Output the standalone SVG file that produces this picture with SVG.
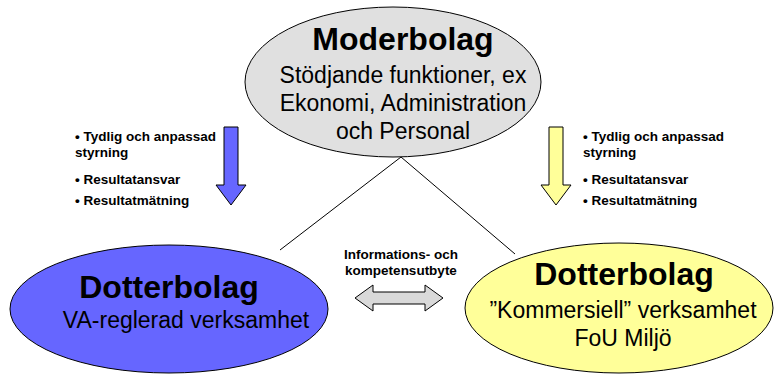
<svg xmlns="http://www.w3.org/2000/svg" width="776" height="378" viewBox="0 0 776 378">
<style>
.ell{stroke:#000;stroke-width:1}
.t{font-family:"Liberation Sans",Arial,sans-serif;fill:#000;text-anchor:middle}
.big{font-size:32px;font-weight:bold}
.sub{font-size:23px}
.bul{font-family:"Liberation Sans",Arial,sans-serif;font-size:13.5px;font-weight:bold;fill:#000}
.sm{font-size:13.5px;font-weight:bold}
.arr{stroke:#000;stroke-width:1;stroke-linejoin:miter}
.conn{stroke:#000;stroke-width:1;fill:none}
</style>
<rect width="776" height="378" fill="#fff"/>
<g id="connectors">
<line class="conn" x1="401" y1="157" x2="280" y2="250"/>
<line class="conn" x1="401" y1="157" x2="515" y2="254"/>
</g>
<g id="moderbolag">
<ellipse class="ell" cx="393" cy="82" rx="148" ry="75" fill="#e0e0e0"/>
<text class="t big" x="403" y="50">Moderbolag</text>
<text class="t sub" x="403" y="83">Stödjande funktioner, ex</text>
<text class="t sub" x="403" y="111">Ekonomi, Administration</text>
<text class="t sub" x="403" y="139">och Personal</text>
</g>
<g id="dotterbolag-va">
<ellipse class="ell" cx="169" cy="309" rx="159" ry="64" fill="#6666ff"/>
<text class="t big" x="169" y="298">Dotterbolag</text>
<text class="t sub" x="186" y="328">VA-reglerad verksamhet</text>
</g>
<g id="dotterbolag-kommersiell">
<ellipse class="ell" cx="619" cy="308" rx="154" ry="65" fill="#ffff99"/>
<text class="t big" x="624" y="285">Dotterbolag</text>
<text class="t sub" x="623" y="318">”Kommersiell” verksamhet</text>
<text class="t sub" x="623" y="346">FoU Miljö</text>
</g>
<g id="arrow-left">
<polygon class="arr" fill="#6666ff" points="224,127 238,127 238,185 246,185 231,205 216,185 224,185"/>
</g>
<g id="arrow-right">
<polygon class="arr" fill="#ffff99" points="549,127 563,127 563,185 571,185 556,205 541,185 549,185"/>
</g>
<g id="bullets-left">
<text class="bul" x="75" y="141">• Tydlig och anpassad</text>
<text class="bul" x="75" y="157">styrning</text>
<text class="bul" x="75" y="184">• Resultatansvar</text>
<text class="bul" x="75" y="205">• Resultatmätning</text>
</g>
<g id="bullets-right">
<text class="bul" x="583" y="141">• Tydlig och anpassad</text>
<text class="bul" x="583" y="157">styrning</text>
<text class="bul" x="583" y="184">• Resultatansvar</text>
<text class="bul" x="583" y="205">• Resultatmätning</text>
</g>
<g id="utbyte">
<text class="t sm" x="401" y="259">Informations- och</text>
<text class="t sm" x="401" y="275">kompetensutbyte</text>
<polygon class="arr" fill="#d9d9d9" points="355,298 373,285 373,292 425,292 425,285 443,298 425,311 425,304 373,304 373,311"/>
</g>
</svg>
